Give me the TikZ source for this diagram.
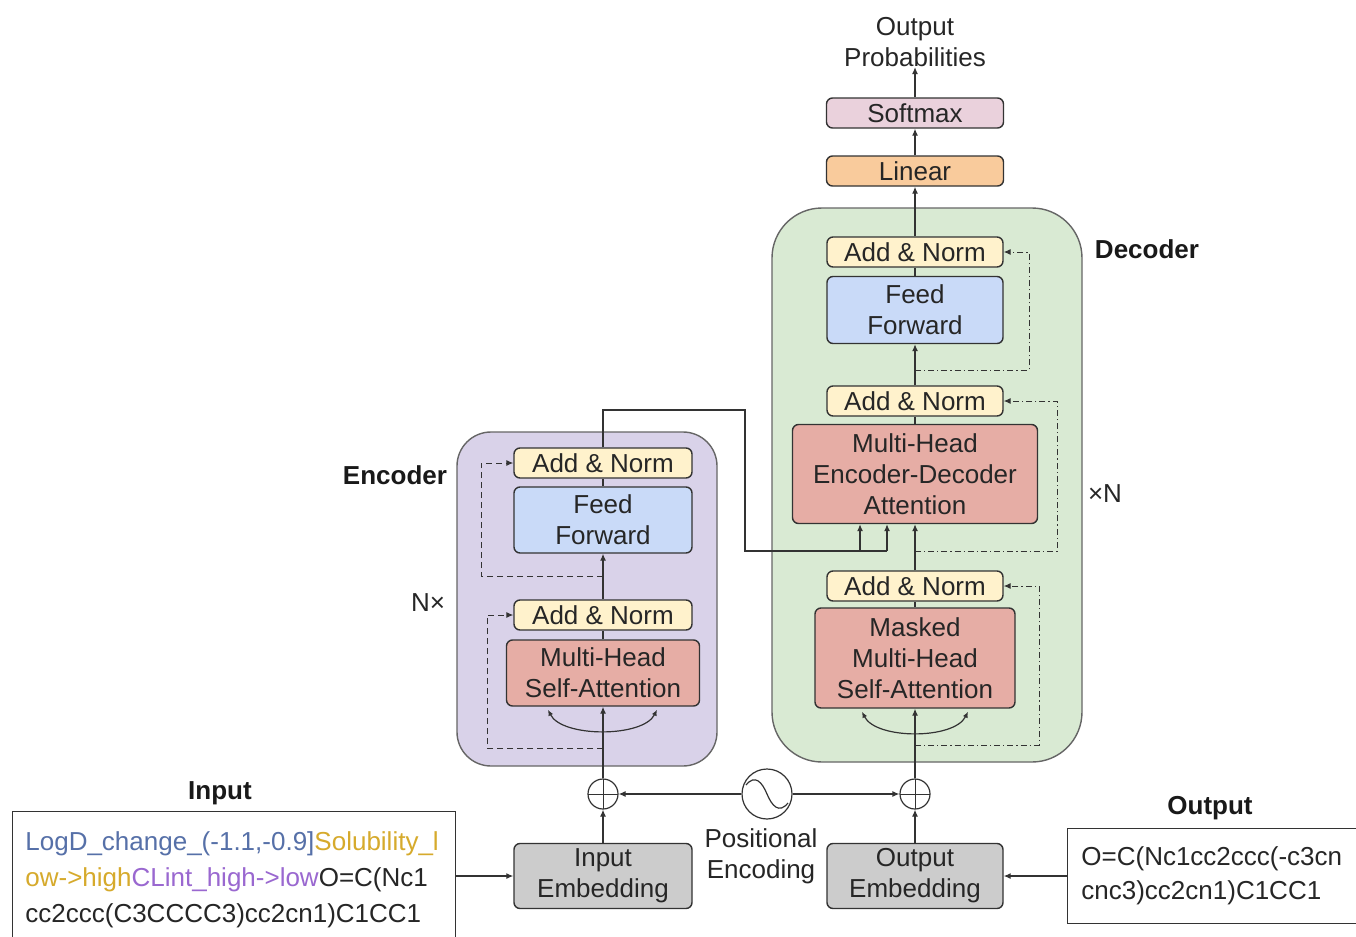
\documentclass[tikz,border=0pt]{standalone}
\usepackage{fontspec}
\setmainfont{Liberation Sans}
\usetikzlibrary{arrows.meta,calc}
\definecolor{anfill}{HTML}{FFF2CC}
\definecolor{fffill}{HTML}{C9DAF8}
\definecolor{attfill}{HTML}{E6ADA5}
\definecolor{encbg}{HTML}{D9D2E9}
\definecolor{decbg}{HTML}{D9EAD3}
\definecolor{linfill}{HTML}{F9CB9C}
\definecolor{smxfill}{HTML}{EAD1DC}
\definecolor{embfill}{HTML}{CCCCCC}
\definecolor{tblue}{HTML}{5670A8}
\definecolor{tgold}{HTML}{D6AA2C}
\definecolor{tpurple}{HTML}{9A68D0}
\definecolor{lncol}{HTML}{333333}
\newcommand{\myfs}{\fontsize{13}{15.5}\selectfont}
\tikzset{
  box/.style={draw=lncol, line width=0.7pt, rounded corners=3pt, inner sep=0pt, align=center, font=\myfs, text=black!85},
  an/.style={box, fill=anfill, minimum width=89pt, minimum height=15pt},
  ffbox/.style={box, fill=fffill, minimum width=89pt, minimum height=33pt},
  att/.style={box, fill=attfill},
  emb/.style={box, fill=embfill, minimum width=89pt, minimum height=32.5pt},
  ln/.style={draw=lncol, line width=0.6pt},
  arr/.style={ln, -{Latex[length=3.5pt,width=3pt]}},
  eres/.style={draw=lncol, line width=0.5pt, dashed, dash pattern=on 3pt off 2pt, -{Latex[length=3.5pt,width=3pt]}},
  dres/.style={draw=lncol, line width=0.5pt, dash pattern=on 3pt off 1.5pt on 0.6pt off 1.5pt, -{Latex[length=3.5pt,width=3pt]}},
  plus/.style={circle, draw=lncol, line width=0.6pt, minimum size=15pt, inner sep=0pt,
    path picture={\draw[lncol, line width=0.5pt] (path picture bounding box.north) -- (path picture bounding box.south)
      (path picture bounding box.west) -- (path picture bounding box.east);}},
  lbl/.style={font=\myfs, align=center, text=black!85, inner sep=0pt},
  blbl/.style={font=\myfs\bfseries, inner sep=0pt, text=black!90},
  txt/.style={font=\myfs, inner sep=0pt, anchor=base west},
}
\begin{document}
\begin{tikzpicture}[x=0.5pt,y=-0.5pt]
\clip (0,0) rectangle (1356,937);
\fill[white] (0,0) rectangle (1356,937);

% background blocks
\draw[draw=black!60, line width=0.7pt, fill=encbg, rounded corners=17pt] (457,432) rectangle (717,766);
\draw[draw=black!60, line width=0.7pt, fill=decbg, rounded corners=25pt] (772,208) rectangle (1082,762);

\node[blbl] (enclbl) at (395,475) {Encoder};
\node[blbl] (declbl) at (1147,249) {Decoder};
\node[lbl] (nx) at (428,603) {N×};
\node[lbl] (xn) at (1105,494) {×N};

% encoder
\node[an] (ean2) at (603,463) {Add \& Norm};
\node[ffbox] (eff) at (603,520) {Feed\\Forward};
\node[an] (ean1) at (603,615) {Add \& Norm};
\node[att, minimum width=96.5pt, minimum height=33pt] (emha) at (603,673) {Multi-Head\\Self-Attention};

% decoder
\node[an, minimum width=88pt] (dan3) at (915,252) {Add \& Norm};
\node[ffbox, minimum width=88pt, minimum height=33.5pt] (dff) at (915,310) {Feed\\Forward};
\node[an, minimum width=88pt] (dan2) at (915,401) {Add \& Norm};
\node[att, minimum width=122.5pt, minimum height=49.5pt] (deda) at (915,474) {Multi-Head\\Encoder-Decoder\\Attention};
\node[an, minimum width=88pt] (dan1) at (915,586) {Add \& Norm};
\node[att, minimum width=100pt, minimum height=50pt] (dmha) at (915,658) {Masked\\Multi-Head\\Self-Attention};

% top
\node[box, fill=linfill, minimum width=88.5pt, minimum height=15pt] (lin) at (915,171) {Linear};
\node[box, fill=smxfill, minimum width=88.5pt, minimum height=15pt] (smx) at (915,113) {Softmax};
\node[lbl] (prob) at (915,42) {Output\\Probabilities};

% bottom
\node[plus] (ep) at (603,794) {};
\node[plus] (dp) at (915,794) {};
\node[circle, draw=lncol, line width=0.6pt, minimum size=25pt, inner sep=0pt] (pe) at (767,794) {};
\draw[lncol, line width=0.6pt, shift={(pe.center)}] (-21,-9) .. controls (-12,-20) and (-5,-12) .. (0,0) .. controls (5,12) and (12,20) .. (21,9);
\node[lbl] (pel) at (761,856) {Positional\\Encoding};
\node[emb] (iemb) at (603,876) {Input\\Embedding};
\node[emb, minimum width=88pt] (oemb) at (915,876) {Output\\Embedding};

% input / output boxes
\node[blbl] (inlbl) at (220,793) {Input};
\node[draw=lncol, line width=0.7pt, minimum width=221.5pt, minimum height=80pt, anchor=north west, inner sep=0pt] (inbox) at (12,811) {};
\node[txt] (in1) at (25,850) {\textcolor{tblue}{LogD\_change\_(-1.1,-0.9]}\textcolor{tgold}{Solubility\_l}};
\node[txt] (in2) at (25,886) {\textcolor{tgold}{ow->high}\textcolor{tpurple}{CLint\_high->low}\textcolor{black!85}{O=C(Nc1}};
\node[txt, text=black!85] (in3) at (25,922) {cc2ccc(C3CCCC3)cc2cn1)C1CC1};

\node[blbl] (outlbl) at (1210,808) {Output};
\node[draw=lncol, line width=0.7pt, minimum width=160pt, minimum height=47.5pt, anchor=north west, inner sep=0pt] (outbox) at (1067,828) {};
\node[txt, text=black!85] (out1) at (1081,865) {O=C(Nc1cc2ccc(-c3cn};
\node[txt, text=black!85] (out2) at (1081,899) {cnc3)cc2cn1)C1CC1};

% connectors bottom
\draw[arr] (inbox.east |- iemb.west) -- (iemb.west);
\draw[arr] (outbox.west |- oemb.east) -- (oemb.east);
\draw[arr] (iemb) -- (ep);
\draw[arr] (oemb) -- (dp);
\draw[arr] (pe) -- (ep);
\draw[arr] (pe) -- (dp);

% encoder flow
\draw[arr] (ep) -- (emha);
\draw[ln] (emha) -- (ean1);
\draw[arr] (ean1) -- (eff);
\draw[ln] (eff) -- (ean2);
\draw[ln, {Latex[length=3pt,width=2.6pt]}-{Latex[length=3pt,width=2.6pt]}] ($(emha.south)+(-55,3)$) .. controls +(14,28) and +(-14,28) .. ($(emha.south)+(54,3)$);

% encoder -> decoder
\coordinate (c1) at (745,410);
\coordinate (c2) at (745,551);
\coordinate (k1) at (860,551);
\coordinate (k2) at (887,551);
\draw[ln] (ean2.north) |- (c1) -- (c2) -- (k2);
\draw[arr] (k1) -- (k1 |- deda.south);
\draw[arr] (k2) -- (k2 |- deda.south);

% decoder flow
\draw[arr] (dp) -- (dmha);
\draw[ln] (dmha) -- (dan1);
\draw[arr] (dan1) -- (deda);
\draw[ln] (deda) -- (dan2);
\draw[arr] (dan2) -- (dff);
\draw[ln] (dff) -- (dan3);
\draw[arr] (dan3) -- (lin);
\draw[arr] (lin) -- (smx);
\draw[arr] (smx) -- (prob);
\draw[ln, {Latex[length=3pt,width=2.6pt]}-{Latex[length=3pt,width=2.6pt]}] ($(dmha.south)+(-53,3)$) .. controls +(14,28) and +(-14,28) .. ($(dmha.south)+(53,3)$);

% residuals encoder
\coordinate (r1) at (603,748);
\coordinate (r1c) at (487,748);
\draw[eres] (r1) -- (r1c) |- (ean1.west);
\coordinate (r2) at (603,576);
\coordinate (r2c) at (481,576);
\draw[eres] (r2) -- (r2c) |- (ean2.west);

% residuals decoder
\coordinate (r3) at (915,745);
\coordinate (r3c) at (1039,745);
\draw[dres] (r3) -- (r3c) |- (dan1.east);
\coordinate (r4) at (915,551);
\coordinate (r4c) at (1057,551);
\draw[dres] (r4) -- (r4c) |- (dan2.east);
\coordinate (r5) at (915,370);
\coordinate (r5c) at (1029,370);
\draw[dres] (r5) -- (r5c) |- (dan3.east);
\end{tikzpicture}
\end{document}
